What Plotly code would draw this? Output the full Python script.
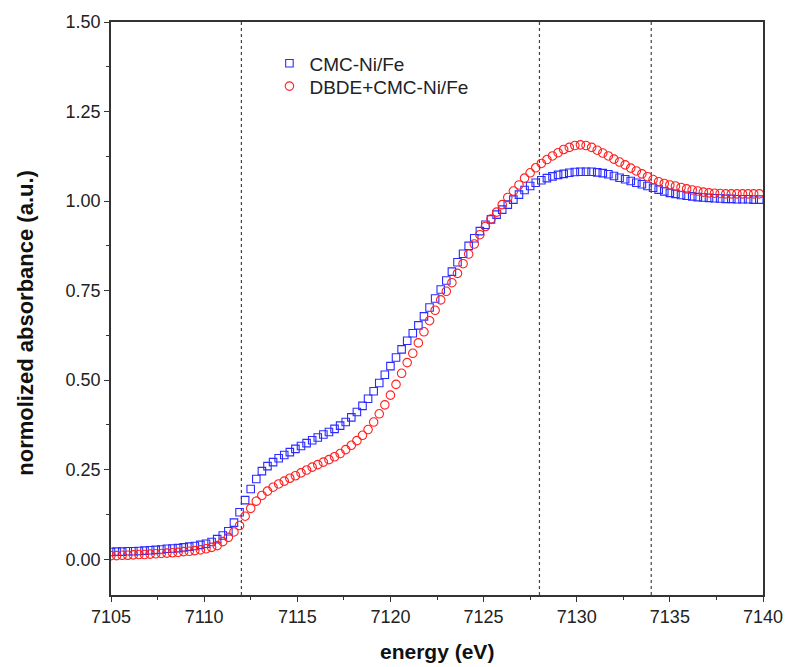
import numpy as np
import plotly.graph_objects as go

# Energy grid (eV), 0.3 eV steps
energy = np.round(7105.0 + 0.3 * np.arange(117), 1)

cmc_nife = [
    0.020, 0.021, 0.021, 0.022, 0.022, 0.023, 0.024, 0.025, 0.026, 0.027,
    0.029, 0.030, 0.031, 0.033, 0.035, 0.037, 0.040, 0.043, 0.048, 0.056,
    0.066, 0.078, 0.102, 0.131, 0.165, 0.196, 0.224, 0.246, 0.260, 0.271,
    0.282, 0.291, 0.299, 0.308, 0.316, 0.324, 0.332, 0.340, 0.348, 0.355,
    0.364, 0.373, 0.383, 0.396, 0.411, 0.428, 0.448, 0.469, 0.492, 0.515,
    0.539, 0.563, 0.586, 0.610, 0.631, 0.653, 0.678, 0.703, 0.728, 0.753,
    0.778, 0.803, 0.829, 0.853, 0.875, 0.896, 0.916, 0.934, 0.949, 0.962,
    0.976, 0.990, 1.004, 1.018, 1.031, 1.042, 1.051, 1.058, 1.064, 1.069,
    1.073, 1.076, 1.079, 1.081, 1.082, 1.082, 1.082, 1.080, 1.078, 1.075,
    1.070, 1.065, 1.061, 1.056, 1.051, 1.047, 1.042, 1.037, 1.032, 1.027,
    1.023, 1.020, 1.017, 1.015, 1.013, 1.011, 1.010, 1.009, 1.008, 1.007,
    1.006, 1.006, 1.005, 1.005, 1.005, 1.004, 1.004,
]

dbde_cmc_nife = [
    0.010, 0.010, 0.011, 0.011, 0.012, 0.013, 0.013, 0.014, 0.015, 0.016,
    0.017, 0.018, 0.019, 0.021, 0.022, 0.024, 0.026, 0.029, 0.033, 0.038,
    0.049, 0.061, 0.076, 0.094, 0.120, 0.142, 0.162, 0.178, 0.190, 0.201,
    0.210, 0.218, 0.226, 0.233, 0.241, 0.249, 0.257, 0.264, 0.271, 0.278,
    0.286, 0.295, 0.306, 0.318, 0.331, 0.346, 0.362, 0.383, 0.406, 0.431,
    0.458, 0.488, 0.519, 0.549, 0.575, 0.604, 0.635, 0.666, 0.695, 0.724,
    0.748, 0.772, 0.798, 0.825, 0.852, 0.880, 0.906, 0.929, 0.950, 0.969,
    0.990, 1.010, 1.028, 1.045, 1.064, 1.079, 1.093, 1.105, 1.116, 1.126,
    1.135, 1.144, 1.150, 1.155, 1.157, 1.155, 1.150, 1.142, 1.134, 1.126,
    1.117, 1.109, 1.101, 1.092, 1.084, 1.076, 1.068, 1.060, 1.054, 1.049,
    1.045, 1.042, 1.038, 1.034, 1.031, 1.028, 1.025, 1.023, 1.022, 1.021,
    1.020, 1.020, 1.020, 1.020, 1.020, 1.020, 1.020,
]

reference_energies = [7112, 7128, 7134]
series_names = ["CMC-Ni/Fe", "DBDE+CMC-Ni/Fe"]
x_title = "energy (eV)"
y_title = "normolized absorbance (a.u.)"

FONT = "Liberation Sans, Arial, sans-serif"

fig = go.Figure()
fig.add_trace(go.Scatter(
    x=energy, y=cmc_nife, mode="markers", name=series_names[0], legend="legend",
    marker=dict(symbol="square-open", size=7.5, color="#2b2bff",
                line=dict(width=1.1, color="#2b2bff")),
))
fig.add_trace(go.Scatter(
    x=energy, y=dbde_cmc_nife, mode="markers", name=series_names[1], legend="legend2",
    marker=dict(symbol="circle-open", size=8.5, color="#ff2020",
                line=dict(width=1.1, color="#ff2020")),
))

# dotted reference lines spanning the full plot height
for e in reference_energies:
    fig.add_shape(type="line", x0=e, x1=e, xref="x", y0=0, y1=1, yref="paper",
                  line=dict(color="#444", width=1.2, dash="dot"), layer="below")

axis_common = dict(
    showline=True, linecolor="#333", linewidth=1.5, mirror=True,
    ticks="outside", ticklen=5, tickwidth=1.2, tickcolor="#333",
    showgrid=False, zeroline=False,
    tickfont=dict(family=FONT, size=18, color="#222"),
)

legend_common = dict(
    x=0.243, xanchor="left", yanchor="top",
    bgcolor="rgba(0,0,0,0)", font=dict(family=FONT, size=19, color="#222"),
    itemwidth=30,
)

fig.update_layout(
    width=795, height=667,
    margin=dict(l=111, r=26, t=19, b=72),
    paper_bgcolor="white", plot_bgcolor="white",
    font=dict(family=FONT, color="#222"),
    xaxis=dict(
        range=[7105, 7140], dtick=5, tick0=7105,
        minor=dict(dtick=2.5, ticks="outside", ticklen=3, tickcolor="#333", tickwidth=1.2),
        **axis_common,
    ),
    yaxis=dict(
        range=[-0.1, 1.5], dtick=0.25, tick0=0, tickformat=".2f",
        minor=dict(dtick=0.125, ticks="outside", ticklen=3, tickcolor="#333", tickwidth=1.2),
        **axis_common,
    ),
    legend=dict(y=0.961, **legend_common),
    legend2=dict(y=0.921, **legend_common),
    showlegend=True,
    annotations=[
        dict(text="<b>%s</b>" % x_title, xref="paper", yref="paper",
             x=0.5, y=-0.099, xanchor="center", yanchor="middle",
             showarrow=False, font=dict(family=FONT, size=21, color="#111")),
        dict(text="<b>%s</b>" % y_title, xref="paper", yref="paper",
             x=-0.1307, y=0.4748, xanchor="center", yanchor="middle",
             textangle=-90, showarrow=False,
             font=dict(family=FONT, size=22, color="#111")),
    ],
)

fig.write_html("out.html")
